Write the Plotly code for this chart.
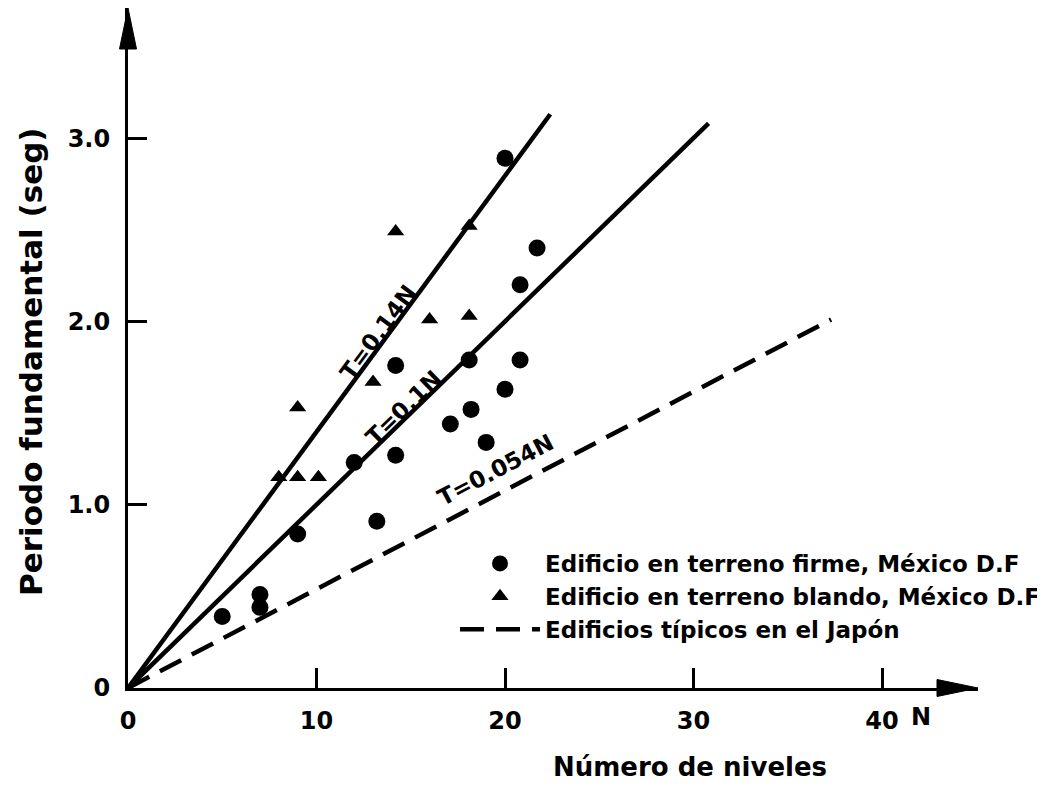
import math
import plotly.graph_objects as go

# ---- data ----
firm_N = [5.0, 7.0, 7.0, 9.0, 12.0, 13.2, 14.2, 14.2, 17.1, 18.1, 18.2, 19.0, 20.0, 20.0, 20.8, 20.8, 21.7]
firm_T = [0.39, 0.51, 0.44, 0.84, 1.23, 0.91, 1.27, 1.76, 1.44, 1.79, 1.52, 1.34, 2.89, 1.63, 2.20, 1.79, 2.40]

soft_N = [8.0, 9.0, 10.1, 9.0, 13.0, 14.2, 16.0, 18.1, 18.1]
soft_T = [1.15, 1.15, 1.15, 1.53, 1.67, 2.49, 2.01, 2.03, 2.52]

line14_N = [0, 22.4]
line14_T = [0, 3.13]
line10_N = [0, 30.8]
line10_T = [0, 3.08]
japan_N = [0, 37.3]
japan_T = [0, 2.01]

line_labels = ["T=0.14N", "T=0.1N", "T=0.054N"]
label_N = [13.3, 14.6, 19.5]
label_T = [1.94, 1.53, 1.19]

x_tickvals = [0, 10, 20, 30, 40]
x_ticktext = ["0", "10", "20", "30", "40"]
y_tickvals = [0, 1, 2, 3]
y_ticktext = ["0", "1.0", "2.0", "3.0"]

legend_names = ["Edificio en terreno firme, México D.F",
                "Edificio en terreno blando, México D.F",
                "Edificios típicos en el Japón"]

# ---- layout geometry (page body adds an 8px offset) ----
W, H = 1037, 780
ML, MR, MT, MB = 120, 67, 0, 100
plot_w = W - ML - MR
plot_h = H - MT - MB
px_x = 18.85
px_y = 183.3
XR = [0, plot_w / px_x]
YR = [0, plot_h / px_y]

FONT = "DejaVu Sans"
BOLD = "bold"
fig = go.Figure()

fig.add_trace(go.Scatter(x=line14_N, y=line14_T, mode="lines",
                         line=dict(color="black", width=4.5), showlegend=False,
                         hoverinfo="skip"))
fig.add_trace(go.Scatter(x=line10_N, y=line10_T, mode="lines",
                         line=dict(color="black", width=4.5), showlegend=False,
                         hoverinfo="skip"))
fig.add_trace(go.Scatter(x=firm_N, y=firm_T, mode="markers", name=legend_names[0],
                         marker=dict(symbol="circle", size=17, color="black"),
                         legendgroup="a"))
fig.add_trace(go.Scatter(x=soft_N, y=soft_T, mode="markers", name=legend_names[1],
                         marker=dict(symbol="triangle-up", size=15, color="black"),
                         legendgroup="b"))
fig.add_trace(go.Scatter(x=japan_N, y=japan_T, mode="lines", name=legend_names[2],
                         line=dict(color="black", width=4.5, dash="24px,12px"),
                         legendgroup="c"))

# line labels rotated along the lines
for txt, n, t, ln, lt in zip(line_labels, label_N, label_T,
                             [line14_N, line10_N, japan_N],
                             [line14_T, line10_T, japan_T]):
    slope = (lt[1] - lt[0]) / (ln[1] - ln[0])
    ang = -math.degrees(math.atan(slope * px_y / px_x))
    fig.add_annotation(x=n, y=t, text=txt, showarrow=False, textangle=ang,
                       xanchor="center", yanchor="middle",
                       font=dict(family=FONT, size=23, color="black", weight=BOLD))

# axis arrowheads
fig.add_shape(type="path", xref="paper", yref="paper", xsizemode="pixel", ysizemode="pixel",
              xanchor=1, yanchor=0, path="M -41,8.5 L 0,0 L -41,-8.5 Z",
              fillcolor="black", line=dict(color="black", width=1))
fig.add_shape(type="path", xref="paper", yref="paper", xsizemode="pixel", ysizemode="pixel",
              xanchor=0, yanchor=1, path="M -8.5,-41 L 0,0 L 8.5,-41 Z",
              fillcolor="black", line=dict(color="black", width=1))

# axis titles and 'N'
fig.add_annotation(x=(682 - ML) / plot_w, y=-(759 - (H - MB)) / plot_h, xref="paper", yref="paper",
                   xanchor="center", yanchor="middle",
                   text="Número de niveles", showarrow=False,
                   font=dict(family=FONT, size=26, color="black", weight=BOLD))
fig.add_annotation(x=(23 - ML) / plot_w, y=((H - MB) - 354) / plot_h, xref="paper", yref="paper",
                   xanchor="center", yanchor="middle",
                   text="Periodo fundamental (seg)", showarrow=False, textangle=-90,
                   font=dict(family=FONT, size=31, color="black", weight=BOLD))
fig.add_annotation(x=42.07, y=0, xref="x", yref="y", xanchor="center", yanchor="middle", yshift=-29,
                   text="N", showarrow=False,
                   font=dict(family=FONT, size=24, color="black", weight=BOLD))

fig.update_xaxes(range=XR, tickvals=x_tickvals, ticktext=x_ticktext,
                 showline=True, linecolor="black", linewidth=3,
                 ticks="inside", ticklen=20, tickwidth=2.5, tickcolor="black",
                 ticklabelstandoff=9, showgrid=False, zeroline=False,
                 tickfont=dict(family=FONT, size=24, color="black", weight=BOLD))
fig.update_yaxes(range=YR, tickvals=y_tickvals, ticktext=y_ticktext,
                 showline=True, linecolor="black", linewidth=3,
                 ticks="inside", ticklen=19, tickwidth=2.5, tickcolor="black",
                 ticklabelstandoff=10, showgrid=False, zeroline=False,
                 tickfont=dict(family=FONT, size=24, color="black", weight=BOLD))

fig.update_layout(
    width=W, height=H,
    margin=dict(l=ML, r=MR, t=MT, b=MB, autoexpand=False),
    paper_bgcolor="white", plot_bgcolor="white",
    showlegend=True,
    legend=dict(x=(447 - ML) / plot_w, y=((H - MB) - 534) / plot_h, xanchor="left", yanchor="top",
                bgcolor="rgba(0,0,0,0)", itemwidth=80, tracegroupgap=13,
                traceorder="normal",
                font=dict(family=FONT, size=23, color="black", weight=BOLD)),
)

fig.write_html("out.html")
